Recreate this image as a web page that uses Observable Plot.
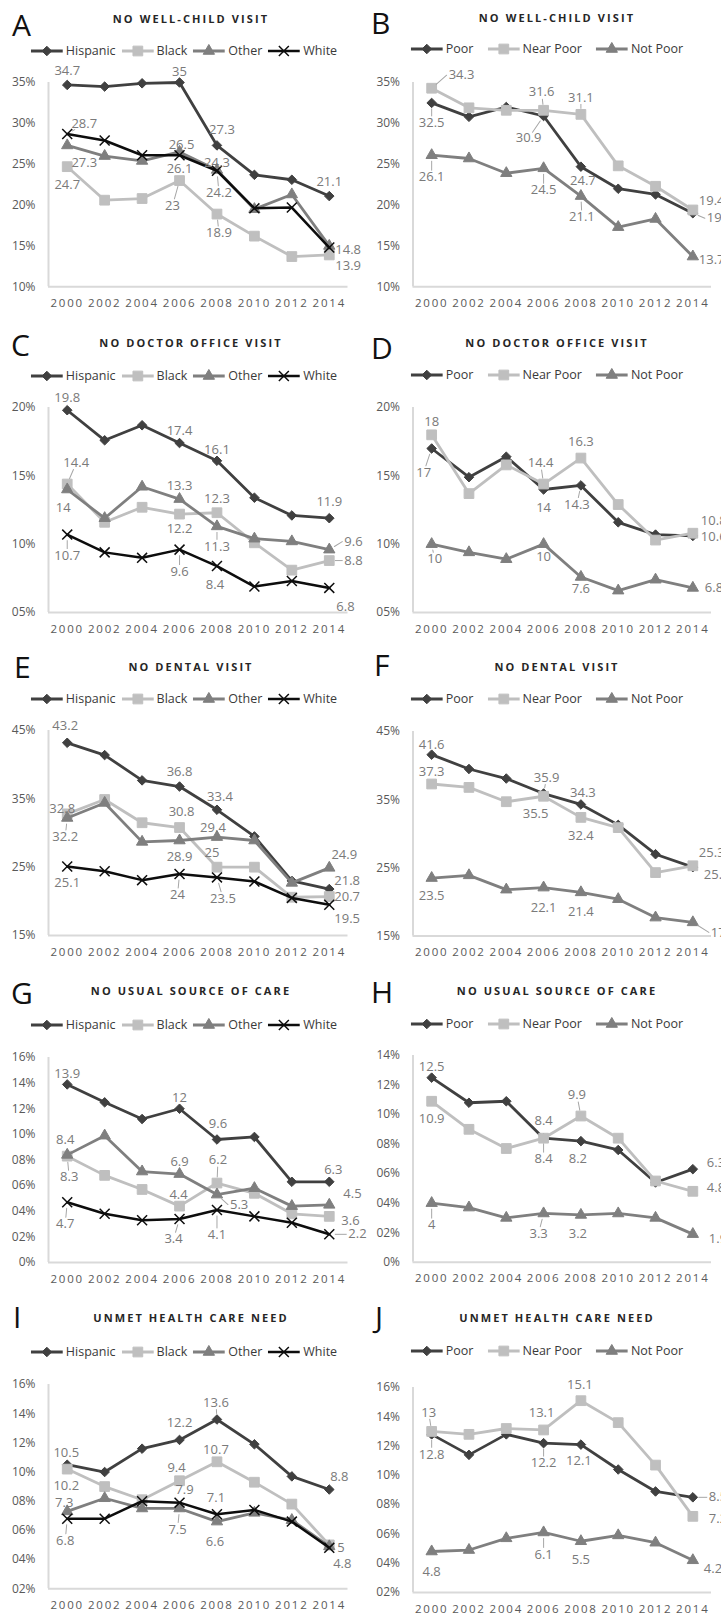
<!DOCTYPE html>
<html>
<head>
<meta charset="utf-8">
<script src="https://cdn.jsdelivr.net/npm/d3@7"></script>
<script src="https://cdn.jsdelivr.net/npm/@observablehq/plot@0.6"></script>
<style>
  html, body { margin:0; padding:0; background:#ffffff; }
  body { width:721px; height:1614px; position:relative; overflow:hidden; font-family:"Open Sans", sans-serif; }
  .abs { position:absolute; white-space:nowrap; }
  .letter { font-size:30px; line-height:30px; height:30px; color:#111; font-weight:400; }
  .title { font-size:11px; line-height:14px; height:14px; font-weight:700; letter-spacing:2.1px; color:#262626; transform:translateX(-50%); }
  .legend { display:flex; align-items:center; height:16px; transform:translateX(-50%); font-size:12.5px; line-height:16px; color:#3a3a3a; }
  .legend .item { display:flex; align-items:center; }
  .legend svg { display:block; margin-right:3px; }
  .plotwrap { position:absolute; }
  .plotwrap svg { overflow:visible; }
</style>
</head>
<body>
<script>
// ---------- data ----------
const years = [2000, 2002, 2004, 2006, 2008, 2010, 2012, 2014];
const raceGroups = ["Hispanic", "Black", "Other", "White"];
const incomeGroups = ["Poor", "Near Poor", "Not Poor"];

// A: no well-child visit, by race
const wellChildHispanic = [34.7, 34.5, 34.9, 35, 27.3, 23.7, 23.1, 21.1];
const wellChildBlack    = [24.7, 20.6, 20.8, 23, 18.9, 16.2, 13.7, 13.9];
const wellChildOther    = [27.3, 26.0, 25.4, 26.5, 24.3, 19.5, 21.3, 15.0];
const wellChildWhite    = [28.7, 27.9, 26.1, 26.1, 24.2, 19.6, 19.7, 14.8];
// B: no well-child visit, by income
const wellChildPoor     = [32.5, 30.8, 32.0, 30.9, 24.7, 22.0, 21.3, 19];
const wellChildNearPoor = [34.3, 31.9, 31.6, 31.6, 31.1, 24.8, 22.3, 19.4];
const wellChildNotPoor  = [26.1, 25.7, 23.9, 24.5, 21.1, 17.3, 18.3, 13.7];
// C: no doctor office visit, by race
const doctorHispanic = [19.8, 17.6, 18.7, 17.4, 16.1, 13.4, 12.1, 11.9];
const doctorBlack    = [14.4, 11.6, 12.7, 12.2, 12.3, 10.1, 8.1, 8.8];
const doctorOther    = [14, 11.9, 14.2, 13.3, 11.3, 10.4, 10.2, 9.6];
const doctorWhite    = [10.7, 9.4, 9.0, 9.6, 8.4, 6.9, 7.3, 6.8];
// D: no doctor office visit, by income
const doctorPoor     = [17, 14.9, 16.4, 14, 14.3, 11.6, 10.7, 10.6];
const doctorNearPoor = [18, 13.7, 15.8, 14.4, 16.3, 12.9, 10.3, 10.8];
const doctorNotPoor  = [10, 9.4, 8.9, 10, 7.6, 6.6, 7.4, 6.8];
// E: no dental visit, by race
const dentalHispanic = [43.2, 41.4, 37.7, 36.8, 33.4, 29.5, 23.0, 21.8];
const dentalBlack    = [32.8, 34.9, 31.5, 30.8, 25, 25.0, 20.6, 20.7];
const dentalOther    = [32.2, 34.4, 28.7, 28.9, 29.4, 28.9, 22.7, 24.9];
const dentalWhite    = [25.1, 24.4, 23.1, 24, 23.5, 22.9, 20.5, 19.5];
// F: no dental visit, by income
const dentalPoor     = [41.6, 39.5, 38.1, 35.9, 34.3, 31.3, 27.0, 25.1];
const dentalNearPoor = [37.3, 36.8, 34.7, 35.5, 32.4, 30.9, 24.3, 25.3];
const dentalNotPoor  = [23.5, 23.9, 21.8, 22.1, 21.4, 20.4, 17.7, 17];
// G: no usual source of care, by race
const usualHispanic = [13.9, 12.5, 11.2, 12, 9.6, 9.8, 6.3, 6.3];
const usualBlack    = [8.3, 6.8, 5.7, 4.4, 6.2, 5.4, 3.8, 3.6];
const usualOther    = [8.4, 9.9, 7.1, 6.9, 5.3, 5.8, 4.4, 4.5];
const usualWhite    = [4.7, 3.8, 3.3, 3.4, 4.1, 3.6, 3.1, 2.2];
// H: no usual source of care, by income
const usualPoor     = [12.5, 10.8, 10.9, 8.4, 8.2, 7.6, 5.4, 6.3];
const usualNearPoor = [10.9, 9.0, 7.7, 8.4, 9.9, 8.4, 5.5, 4.8];
const usualNotPoor  = [4, 3.7, 3.0, 3.3, 3.2, 3.3, 3.0, 1.9];
// I: unmet health care need, by race
const unmetHispanic = [10.5, 10.0, 11.6, 12.2, 13.6, 11.9, 9.7, 8.8];
const unmetBlack    = [10.2, 9.0, 8.1, 9.4, 10.7, 9.3, 7.8, 5];
const unmetOther    = [7.3, 8.2, 7.5, 7.5, 6.6, 7.2, 6.7, 4.9];
const unmetWhite    = [6.8, 6.8, 8.0, 7.9, 7.1, 7.4, 6.6, 4.8];
// J: unmet health care need, by income
const unmetPoor     = [12.8, 11.4, 12.8, 12.2, 12.1, 10.4, 8.9, 8.5];
const unmetNearPoor = [13, 12.8, 13.2, 13.1, 15.1, 13.6, 10.7, 7.2];
const unmetNotPoor  = [4.8, 4.9, 5.7, 6.1, 5.5, 5.9, 5.4, 4.2];

// y ticks and their labels
const ticksWell = [10, 15, 20, 25, 30, 35];
const tickLabelsWell = ["10%", "15%", "20%", "25%", "30%", "35%"];
const ticksDoctor = [5, 10, 15, 20];
const tickLabelsDoctor = ["05%", "10%", "15%", "20%"];
const ticksDental = [15, 25, 35, 45];
const tickLabelsDental = ["15%", "25%", "35%", "45%"];
const ticksUsualRace = [0, 2, 4, 6, 8, 10, 12, 14, 16];
const tickLabelsUsualRace = ["0%", "02%", "04%", "06%", "08%", "10%", "12%", "14%", "16%"];
const ticksUsualIncome = [0, 2, 4, 6, 8, 10, 12, 14];
const tickLabelsUsualIncome = ["0%", "02%", "04%", "06%", "08%", "10%", "12%", "14%"];
const ticksUnmet = [2, 4, 6, 8, 10, 12, 14, 16];
const tickLabelsUnmet = ["02%", "04%", "06%", "08%", "10%", "12%", "14%", "16%"];

const panelTitles = ["NO WELL-CHILD VISIT", "NO DOCTOR OFFICE VISIT", "NO DENTAL VISIT", "NO USUAL SOURCE OF CARE", "UNMET HEALTH CARE NEED"];
const panelLetters = ["A", "B", "C", "D", "E", "F", "G", "H", "I", "J"];

// ---------- data label placement: [series, year, dx, dy, anchor, leader] ----------
const labelsA = [
  ["Hispanic",2000,0,-14,"m",0],["Hispanic",2006,0,-11,"m",0],["Hispanic",2008,5,-16,"m",0],["Hispanic",2014,0,-14,"m",0],
  ["White",2000,17,-10,"m",1],["Other",2000,17,17,"m",0],["Black",2000,0,18,"m",0],
  ["Other",2006,2,-7,"m",0],["White",2006,0,14,"m",0],["Black",2006,-7,25,"m",1],
  ["Other",2008,0,-7,"m",0],["White",2008,2,22,"m",1],["Black",2008,2,19,"m",1],
  ["White",2014,6,2,"s",0],["Black",2014,6,11,"s",0]
];
const labelsB = [
  ["Near Poor",2000,17,-13,"s",1],["Poor",2000,0,20,"m",1],
  ["Near Poor",2006,-2,-18,"m",1],["Poor",2006,-15,22,"m",1],
  ["Near Poor",2008,0,-17,"m",1],["Poor",2008,2,14,"m",0],
  ["Not Poor",2000,0,22,"m",1],["Not Poor",2006,0,22,"m",1],["Not Poor",2008,1,21,"m",1],
  ["Near Poor",2014,6,-9,"s",0],["Poor",2014,14,5,"s",1],["Not Poor",2014,6,3,"s",0]
];
const labelsC = [
  ["Hispanic",2000,0,-12,"m",0],["Hispanic",2006,0,-12,"m",0],["Hispanic",2008,0,-11,"m",0],["Hispanic",2014,0,-16,"m",0],
  ["Black",2000,9,-21,"m",1],["Other",2000,-4,18,"m",0],
  ["Other",2006,0,-13,"m",0],["Black",2006,0,15,"m",0],
  ["Black",2008,0,-14,"m",1],["Other",2008,0,20,"m",1],
  ["White",2000,0,21,"m",1],["White",2006,0,22,"m",1],["White",2008,-2,19,"m",0],
  ["Other",2014,15,-8,"s",1],["Black",2014,15,0,"s",1],["White",2014,7,19,"s",0]
];
const labelsD = [
  ["Near Poor",2000,0,-13,"m",0],["Poor",2000,-8,24,"m",1],
  ["Near Poor",2006,-3,-21,"m",1],["Poor",2006,0,18,"m",0],
  ["Near Poor",2008,0,-16,"m",0],["Poor",2008,-4,19,"m",1],
  ["Near Poor",2014,8,-12,"s",0],["Poor",2014,8,1,"s",0],
  ["Not Poor",2000,3,15,"m",1],["Not Poor",2006,0,13,"m",0],["Not Poor",2008,0,12,"m",1],["Not Poor",2014,12,0,"s",0]
];
const labelsE = [
  ["Hispanic",2000,-2,-17,"m",0],["Hispanic",2006,0,-15,"m",0],["Hispanic",2008,3,-13,"m",0],
  ["Black",2000,-5,-5,"m",0],["Other",2000,-2,19,"m",1],
  ["Black",2006,2,-16,"m",0],["Other",2006,0,16,"m",0],
  ["Other",2008,-4,-9,"m",0],["Black",2008,-5,-14,"m",0],
  ["White",2000,0,16,"m",0],["White",2006,-2,21,"m",1],["White",2008,6,21,"m",1],
  ["Other",2014,15,-13,"m",0],["Hispanic",2014,5,-8,"s",0],["Black",2014,5,0,"s",0],["White",2014,5,14,"s",0]
];
const labelsF = [
  ["Poor",2000,0,-10,"m",0],["Near Poor",2000,0,-12,"m",0],
  ["Poor",2006,3,-16,"m",1],["Near Poor",2006,-8,18,"m",0],
  ["Poor",2008,2,-12,"m",0],["Near Poor",2008,0,18,"m",0],
  ["Near Poor",2014,6,-13,"s",0],["Poor",2014,11,8,"s",0],
  ["Not Poor",2000,0,18,"m",0],["Not Poor",2006,0,20,"m",0],["Not Poor",2008,0,19,"m",0],["Not Poor",2014,18,10,"s",1]
];
const labelsG = [
  ["Hispanic",2000,0,-11,"m",0],["Hispanic",2006,0,-11,"m",0],["Hispanic",2008,1,-16,"m",0],["Hispanic",2014,4,-12,"m",0],
  ["Other",2000,-2,-15,"m",0],["Black",2000,2,21,"m",1],
  ["Other",2006,0,-12,"m",0],["Black",2006,-1,-11,"m",0],
  ["Black",2008,1,-23,"m",1],["Other",2008,13,10,"s",1],
  ["White",2000,-2,22,"m",1],["White",2006,-6,20,"m",1],["White",2008,0,25,"m",1],
  ["Other",2014,14,-11,"s",0],["Black",2014,12,4,"s",0],["White",2014,19,0,"s",1]
];
const labelsH = [
  ["Poor",2000,0,-11,"m",0],["Near Poor",2000,0,18,"m",0],
  ["Poor",2006,0,-17,"m",0],["Near Poor",2006,0,21,"m",1],
  ["Near Poor",2008,-4,-21,"m",1],["Poor",2008,-3,18,"m",0],
  ["Poor",2014,14,-6,"s",0],["Near Poor",2014,14,-3,"s",0],
  ["Not Poor",2000,0,22,"m",1],["Not Poor",2006,-5,20,"m",1],["Not Poor",2008,-3,19,"m",0],["Not Poor",2014,16,5,"s",0]
];
const labelsI = [
  ["Hispanic",2000,-1,-12,"m",0],["Black",2000,-1,17,"m",0],["Other",2000,-3,-9,"m",0],["White",2000,-2,22,"m",1],
  ["Hispanic",2006,0,-17,"m",0],["Black",2006,-3,-13,"m",0],["White",2006,5,-13,"m",0],["Other",2006,-2,21,"m",1],
  ["Hispanic",2008,-1,-17,"m",1],["Black",2008,-1,-12,"m",0],["White",2008,-1,-16,"m",0],["Other",2008,-2,20,"m",0],
  ["Hispanic",2014,10,-13,"m",0],["Black",2014,8,3,"s",0],["White",2014,13,16,"m",0]
];
const labelsJ = [
  ["Near Poor",2000,-3,-19,"m",1],["Poor",2000,0,20,"m",1],
  ["Near Poor",2006,-2,-17,"m",0],["Poor",2006,0,20,"m",1],
  ["Near Poor",2008,-1,-16,"m",0],["Poor",2008,-2,16,"m",0],
  ["Poor",2014,16,0,"s",1],["Near Poor",2014,16,2,"s",0],
  ["Not Poor",2000,0,20,"m",0],["Not Poor",2006,0,22,"m",1],["Not Poor",2008,0,19,"m",0],["Not Poor",2014,11,9,"s",0]
];

// ---------- styles ----------
const STYLE = {
  Hispanic: {stroke:"#404040", fill:"#404040", symbol:"diamond2", r:4.3, sw:2.8, msw:1},
  Black:    {stroke:"#bfbfbf", fill:"#bfbfbf", symbol:"square",   r:5.5, sw:2.8, msw:1},
  Other:    {stroke:"#7f7f7f", fill:"#7f7f7f", symbol:"triangle", r:4.2, sw:2.8, msw:1},
  White:    {stroke:"#0d0d0d", fill:"none",    symbol:"times",    r:4.6, sw:2.5, msw:1.5}
};
STYLE["Poor"] = STYLE.Hispanic;
STYLE["Near Poor"] = STYLE.Black;
STYLE["Not Poor"] = STYLE.Other;
const SYM = {diamond2: d3.symbolDiamond2, square: d3.symbolSquare, triangle: d3.symbolTriangle, times: d3.symbolTimes};

// ---------- panel layout ----------
const panels = [
  {letter:0, title:0, side:"left",  names:raceGroups,   series:[wellChildHispanic, wellChildBlack, wellChildOther, wellChildWhite], domain:[10,35], ticks:ticksWell, tickLabels:tickLabelsWell, yTop:81.7, yBot:286, letterX:12, letterTop:15, titleY:19, legendY:51, labels:labelsA},
  {letter:1, title:0, side:"right", names:incomeGroups, series:[wellChildPoor, wellChildNearPoor, wellChildNotPoor], domain:[10,35], ticks:ticksWell, tickLabels:tickLabelsWell, yTop:81.7, yBot:286, letterX:371, letterTop:13, titleY:18, legendY:49, labels:labelsB},
  {letter:2, title:1, side:"left",  names:raceGroups,   series:[doctorHispanic, doctorBlack, doctorOther, doctorWhite], domain:[5,20], ticks:ticksDoctor, tickLabels:tickLabelsDoctor, yTop:406.7, yBot:611.7, letterX:11, letterTop:335, titleY:343, legendY:376, labels:labelsC},
  {letter:3, title:1, side:"right", names:incomeGroups, series:[doctorPoor, doctorNearPoor, doctorNotPoor], domain:[5,20], ticks:ticksDoctor, tickLabels:tickLabelsDoctor, yTop:406.7, yBot:611.7, letterX:371, letterTop:338, titleY:343, legendY:375, labels:labelsD},
  {letter:4, title:2, side:"left",  names:raceGroups,   series:[dentalHispanic, dentalBlack, dentalOther, dentalWhite], domain:[15,45], ticks:ticksDental, tickLabels:tickLabelsDental, yTop:730, yBot:935, letterX:14, letterTop:657, titleY:667, legendY:699, labels:labelsE},
  {letter:5, title:2, side:"right", names:incomeGroups, series:[dentalPoor, dentalNearPoor, dentalNotPoor], domain:[15,45], ticks:ticksDental, tickLabels:tickLabelsDental, yTop:730.5, yBot:935, letterX:374, letterTop:655, titleY:667, legendY:699, labels:labelsF},
  {letter:6, title:3, side:"left",  names:raceGroups,   series:[usualHispanic, usualBlack, usualOther, usualWhite], domain:[0,16], ticks:ticksUsualRace, tickLabels:tickLabelsUsualRace, yTop:1056.7, yBot:1261.7, letterX:11, letterTop:983, titleY:991, legendY:1025, labels:labelsG},
  {letter:7, title:3, side:"right", names:incomeGroups, series:[usualPoor, usualNearPoor, usualNotPoor], domain:[0,14], ticks:ticksUsualIncome, tickLabels:tickLabelsUsualIncome, yTop:1055, yBot:1261.7, letterX:371, letterTop:982, titleY:991, legendY:1024, labels:labelsH},
  {letter:8, title:4, side:"left",  names:raceGroups,   series:[unmetHispanic, unmetBlack, unmetOther, unmetWhite], domain:[2,16], ticks:ticksUnmet, tickLabels:tickLabelsUnmet, yTop:1384.3, yBot:1588.5, letterX:13, letterTop:1307, titleY:1318, legendY:1352, labels:labelsI},
  {letter:9, title:4, side:"right", names:incomeGroups, series:[unmetPoor, unmetNearPoor, unmetNotPoor], domain:[2,16], ticks:ticksUnmet, tickLabels:tickLabelsUnmet, yTop:1386.7, yBot:1591.7, letterX:375, letterTop:1307, titleY:1318, legendY:1351, labels:labelsJ}
];

function leaderShape(g) {
  return { draw(ctx, l) { ctx.moveTo(0, -g); ctx.lineTo(0, -l); } };
}

function addDiv(cls, text, left, top) {
  const d = document.createElement("div");
  d.className = "abs " + cls;
  d.textContent = text;
  d.style.left = left + "px";
  d.style.top = top + "px";
  document.body.appendChild(d);
  return d;
}

function swatch(name) {
  const st = STYLE[name];
  const svg = d3.create("svg").attr("width", 32).attr("height", 14);
  svg.append("line").attr("x1", 0).attr("x2", 32).attr("y1", 7).attr("y2", 7)
    .attr("stroke", st.stroke).attr("stroke-width", st.sw);
  svg.append("path").attr("transform", "translate(16,7)")
    .attr("d", d3.symbol(SYM[st.symbol], Math.PI * st.r * st.r)())
    .attr("fill", st.fill).attr("stroke", st.stroke).attr("stroke-width", st.msw);
  return svg.node();
}

function buildPanel(p) {
  const right = p.side === "right";
  const left = right ? 360 : 0;
  const width = right ? 361 : 360;
  const ml = right ? 52.5 : 48;
  const mr = right ? 10 : 12.5;
  const mt = 30, mb = 32;
  const h = (p.yBot - p.yTop) + mt + mb;

  const rows = [];
  p.names.forEach((n, i) => p.series[i].forEach((v, j) => rows.push({series: n, year: years[j], value: v})));

  const marks = [
    Plot.ruleY([p.domain[0]], {stroke: "#d9d9d9", strokeWidth: 2}),
    Plot.ruleX([1999], {stroke: "#d9d9d9", strokeWidth: 2}),
    Plot.axisY(p.ticks, {tickFormat: d => p.tickLabels[p.ticks.indexOf(d)], tickSize: 0, tickPadding: 13, fontSize: 12, label: null}),
    Plot.axisX(years, {tickFormat: d => String(d), tickSize: 0, tickPadding: 12, fontSize: 11.5, label: null})
  ];
  p.names.forEach(n => {
    const st = STYLE[n];
    const d = rows.filter(r => r.series === n);
    marks.push(Plot.line(d, {x: "year", y: "value", stroke: st.stroke, strokeWidth: st.sw, strokeLinejoin: "round"}));
    marks.push(Plot.dot(d, {x: "year", y: "value", symbol: st.symbol, r: st.r, fill: st.fill, stroke: st.stroke, strokeWidth: st.msw}));
  });
  p.labels.forEach(([name, year, dx, dy, anchor, leader]) => {
    const d = rows.find(r => r.series === name && r.year === year);
    if (leader) {
      const tx = anchor === "s" ? dx - 2 : dx;
      const dist = Math.hypot(tx, dy);
      const end = anchor === "s" ? dist : dist - (Math.abs(dy) >= Math.abs(dx) ? 7 : 11);
      const g = 6;
      if (end > g + 1) {
        marks.push(Plot.vector([d], {x: "year", y: "value", length: end, rotate: Math.atan2(tx, -dy) * 180 / Math.PI,
          anchor: "start", shape: leaderShape(g), stroke: "#a6a6a6", strokeWidth: 1}));
      }
    }
    marks.push(Plot.text([d], {x: "year", y: "value", text: r => String(r.value), dx, dy,
      textAnchor: anchor === "s" ? "start" : "middle", fill: "#7a7a7a", fontSize: 13}));
  });

  const svg = Plot.plot({
    width, height: h,
    marginLeft: ml, marginRight: mr, marginTop: mt, marginBottom: mb,
    x: {domain: [1999, 2015]},
    y: {domain: p.domain},
    style: {fontFamily: "'Open Sans', sans-serif", color: "#595959", background: "transparent", overflow: "visible"},
    marks
  });
  svg.querySelectorAll('[aria-label="x-axis tick label"] text').forEach(t => t.style.letterSpacing = "1.8px");

  const wrap = document.createElement("div");
  wrap.className = "plotwrap";
  wrap.style.left = left + "px";
  wrap.style.top = (p.yTop - mt) + "px";
  wrap.appendChild(svg);
  document.body.appendChild(wrap);

  // letter, title, legend
  addDiv("letter", panelLetters[p.letter], p.letterX, p.letterTop - 5);
  addDiv("title", panelTitles[p.title], right ? 557 : 191, p.titleY - 7.3);
  const lg = addDiv("legend", "", right ? 547 : 184, p.legendY - 8);
  lg.style.gap = right ? "14px" : "6px";
  p.names.forEach(n => {
    const it = document.createElement("div");
    it.className = "item";
    it.appendChild(swatch(n));
    const s = document.createElement("span");
    s.textContent = n;
    it.appendChild(s);
    lg.appendChild(it);
  });
}

panels.forEach(buildPanel);
</script>
</body>
</html>
